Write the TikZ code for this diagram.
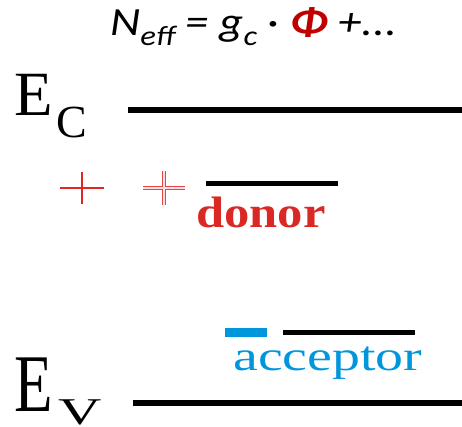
\documentclass[tikz,border=0pt]{standalone}
\usepackage{fontspec}
\setmainfont{Liberation Serif}
\newfontfamily\titlefont{Carlito}
\definecolor{plusred}{RGB}{226,36,36}
\definecolor{donorred}{RGB}{218,40,36}
\definecolor{phired}{RGB}{192,0,0}
\definecolor{accblue}{RGB}{0,150,220}
\begin{document}
\begin{tikzpicture}[x=1pt,y=-1pt,
  band/.style={line width=6pt},
  level/.style={line width=5pt},
  lbl/.style={inner sep=0pt,anchor=base west},
  plusthin/.style={draw=plusred,line width=2.3pt},
  plusdouble/.style={draw=plusred!85,line width=0.9pt,double=red!12,double distance=2.6pt}]
\useasboundingbox (0,0) rectangle (462,426);
% title
\node[lbl] (title) at (110,35) {\scalebox{1.17}[1]{\titlefont\fontsize{40}{40}\selectfont\itshape
  N\raisebox{-0.25em}{\fontsize{28}{28}\selectfont eff} = g\raisebox{-0.25em}{\fontsize{28}{28}\selectfont c} {\upshape·} \textcolor{phired}{\bfseries Φ} +...}};
% E_C
\node[lbl] (ec) at (14,115) {\fontsize{63}{63}\selectfont E};
\node[lbl] (ecsub) at (56,137) {\fontsize{46}{46}\selectfont C};
\coordinate (ecL) at (128,110);
\coordinate (ecR) at (462,110);
\draw[band] (ecL) -- (ecR);
% E_V
\node[lbl] (ev) at (14,411) {\scalebox{1}[1.3]{\fontsize{63}{63}\selectfont E}};
\node[lbl] (evsub) at (58,424) {\scalebox{1}[0.63]{\fontsize{60}{60}\selectfont V}};
\coordinate (evL) at (133,403);
\coordinate (evR) at (462,403);
\draw[band] (evL) -- (evR);
% plus signs
\coordinate (p1) at (82,188);
\draw[plusthin] ([xshift=-22pt]p1) -- ([xshift=22pt]p1) ([yshift=-16pt]p1) -- ([yshift=16pt]p1);
\coordinate (p2) at (164,188);
\draw[plusdouble] ([xshift=-21pt]p2) -- ([xshift=21pt]p2) ([yshift=-17pt]p2) -- ([yshift=17pt]p2);
% donor
\coordinate (dL) at (206,183);
\coordinate (dR) at (338,183);
\draw[level] (dL) -- (dR);
\node[lbl,text=donorred] (donor) at (196,227) {\scalebox{1.15}[1]{\fontsize{44}{44}\selectfont\bfseries donor}};
% acceptor
\coordinate (bL) at (225,332.5);
\coordinate (bR) at (267,332.5);
\draw[line width=9pt,accblue] (bL) -- (bR);
\coordinate (aL) at (283,332.5);
\coordinate (aR) at (415,332.5);
\draw[level] (aL) -- (aR);
\node[lbl,text=accblue] (acc) at (233,370) {\scalebox{1.33}[1]{\fontsize{42}{42}\selectfont acceptor}};
\end{tikzpicture}
\end{document}
